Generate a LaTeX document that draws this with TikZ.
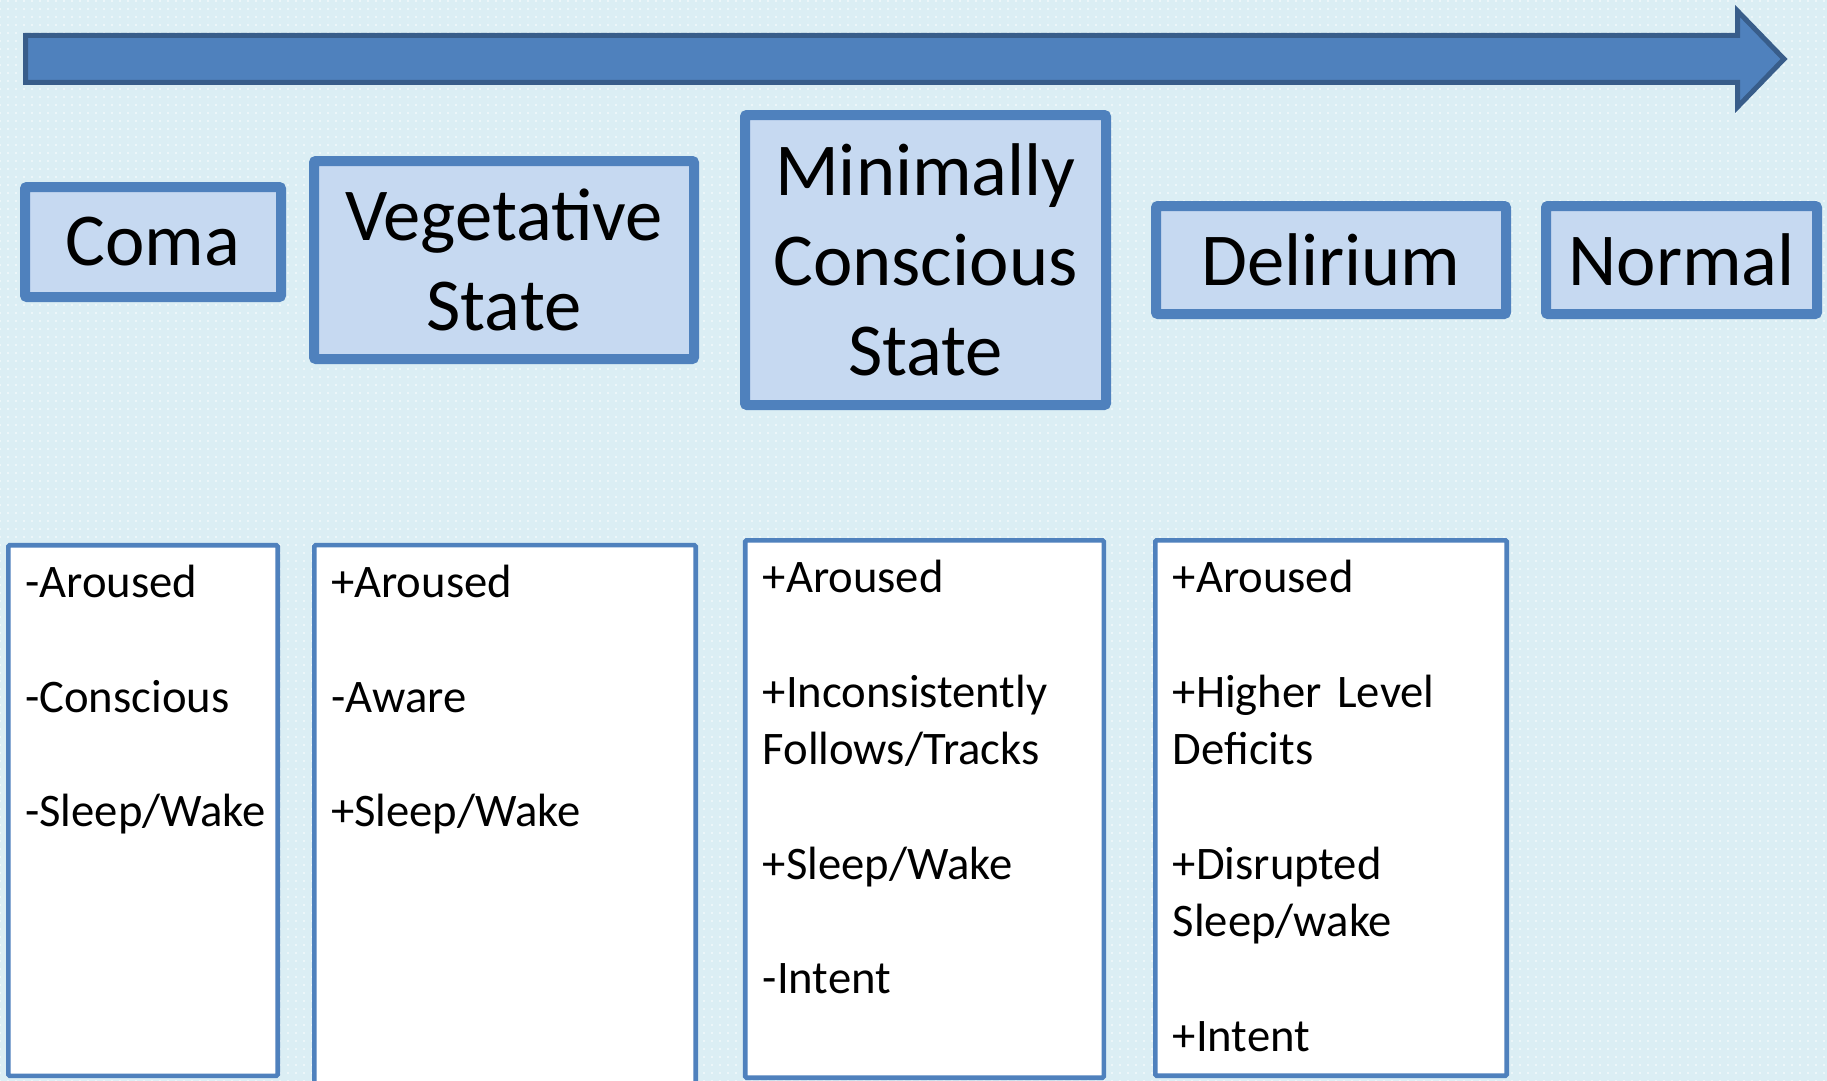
\documentclass[tikz,border=0pt]{standalone}
\usepackage{fontspec}
\setmainfont{Carlito}
\usetikzlibrary{patterns.meta}

\definecolor{bgblue}{HTML}{DBEEF4}
\definecolor{arrowfill}{HTML}{4F81BD}
\definecolor{arrowline}{HTML}{385D8A}
\definecolor{boxline}{HTML}{4F81BD}
\definecolor{boxfill}{HTML}{C6D9F1}

\tikzset{
  every picture/.style={line width=0.75pt},
  stagebox/.style={draw=boxline, fill=boxfill, line width=7.5pt, rounded corners=1.5pt,
    inner sep=0pt, align=center, font=\fontsize{56}{67.5}\selectfont},
  listbox/.style={draw=boxline, fill=white, line width=3.4pt, rounded corners=1pt, inner sep=0pt},
  listtext/.style={anchor=north west, inner sep=0pt, text width=260pt, align=left,
    font=\fontsize{35}{43}\selectfont},
}

\begin{document}
\begin{tikzpicture}[x=0.75pt,y=0.75pt,yscale=-1,xscale=1]
\useasboundingbox (0,0) rectangle (1827,1081);
\clip (0,0) rectangle (1827,1081);

%Background
\fill[bgblue] (0,0) rectangle (1827,1081);
\fill[pattern={Dots[radius=0.6pt, distance=6pt]}, pattern color=white] (0,0) rectangle (1827,1081);

%Shape: Right Arrow
\draw[draw=arrowline, fill=arrowfill, line width=3.75pt]
  (25.5,35.5) -- (1737.5,35.5) -- (1737.5,11) -- (1784,59) -- (1737.5,107)
  -- (1737.5,82.5) -- (25.5,82.5) -- cycle;

% Stage boxes
\node[stagebox, minimum width=192pt, minimum height=82.5pt] (coma) at (153,242) {Coma};
\node[stagebox, minimum width=285pt, minimum height=148.5pt] (veg) at (504,260) {Vegetative\\State};
\node[stagebox, minimum width=270.75pt, minimum height=217.5pt] (mcs) at (925.5,260) {Minimally\\Conscious\\State};
\node[stagebox, minimum width=262.5pt, minimum height=81pt] (delir) at (1331,260) {Delirium};
\node[stagebox, minimum width=203.25pt, minimum height=81pt] (normal) at (1681.5,260) {Normal};

% List boxes
\node[listbox, minimum width=202.1pt, minimum height=397.9pt] (comaList) at (143,810.5) {};
\node[listbox, minimum width=286.1pt, minimum height=412.3pt] (vegList) at (505,820) {};
\node[listbox, minimum width=268.9pt, minimum height=403.1pt] (mcsList) at (924.5,809) {};
\node[listbox, minimum width=263.6pt, minimum height=401.6pt] (delirList) at (1331,808) {};

% Text Node
\node[listtext] (comaTxt) at ([xshift=14pt,yshift=10.4pt]comaList.north west)
  {\strut-Aroused\\[43pt]-Conscious\\[43pt]-Sleep/Wake};
% Text Node
\node[listtext] (vegTxt) at ([xshift=14pt,yshift=10.4pt]vegList.north west)
  {\strut+Aroused\\[43pt]-Aware\\[43pt]+Sleep/Wake};
% Text Node
\node[listtext] (mcsTxt) at ([xshift=14.5pt,yshift=10.5pt]mcsList.north west)
  {\strut+Aroused\\[43pt]+Inconsistently\\Follows/Tracks\\[43pt]+Sleep/Wake\\[43pt]-Intent};
% Text Node
\node[listtext] (delirTxt) at ([xshift=14.5pt,yshift=10.5pt]delirList.north west)
  {\strut+Aroused\\[43pt]+Higher Level\\Deficits\\[43pt]+Disrupted\\Sleep/wake\\[43pt]+Intent};

\end{tikzpicture}
\end{document}
